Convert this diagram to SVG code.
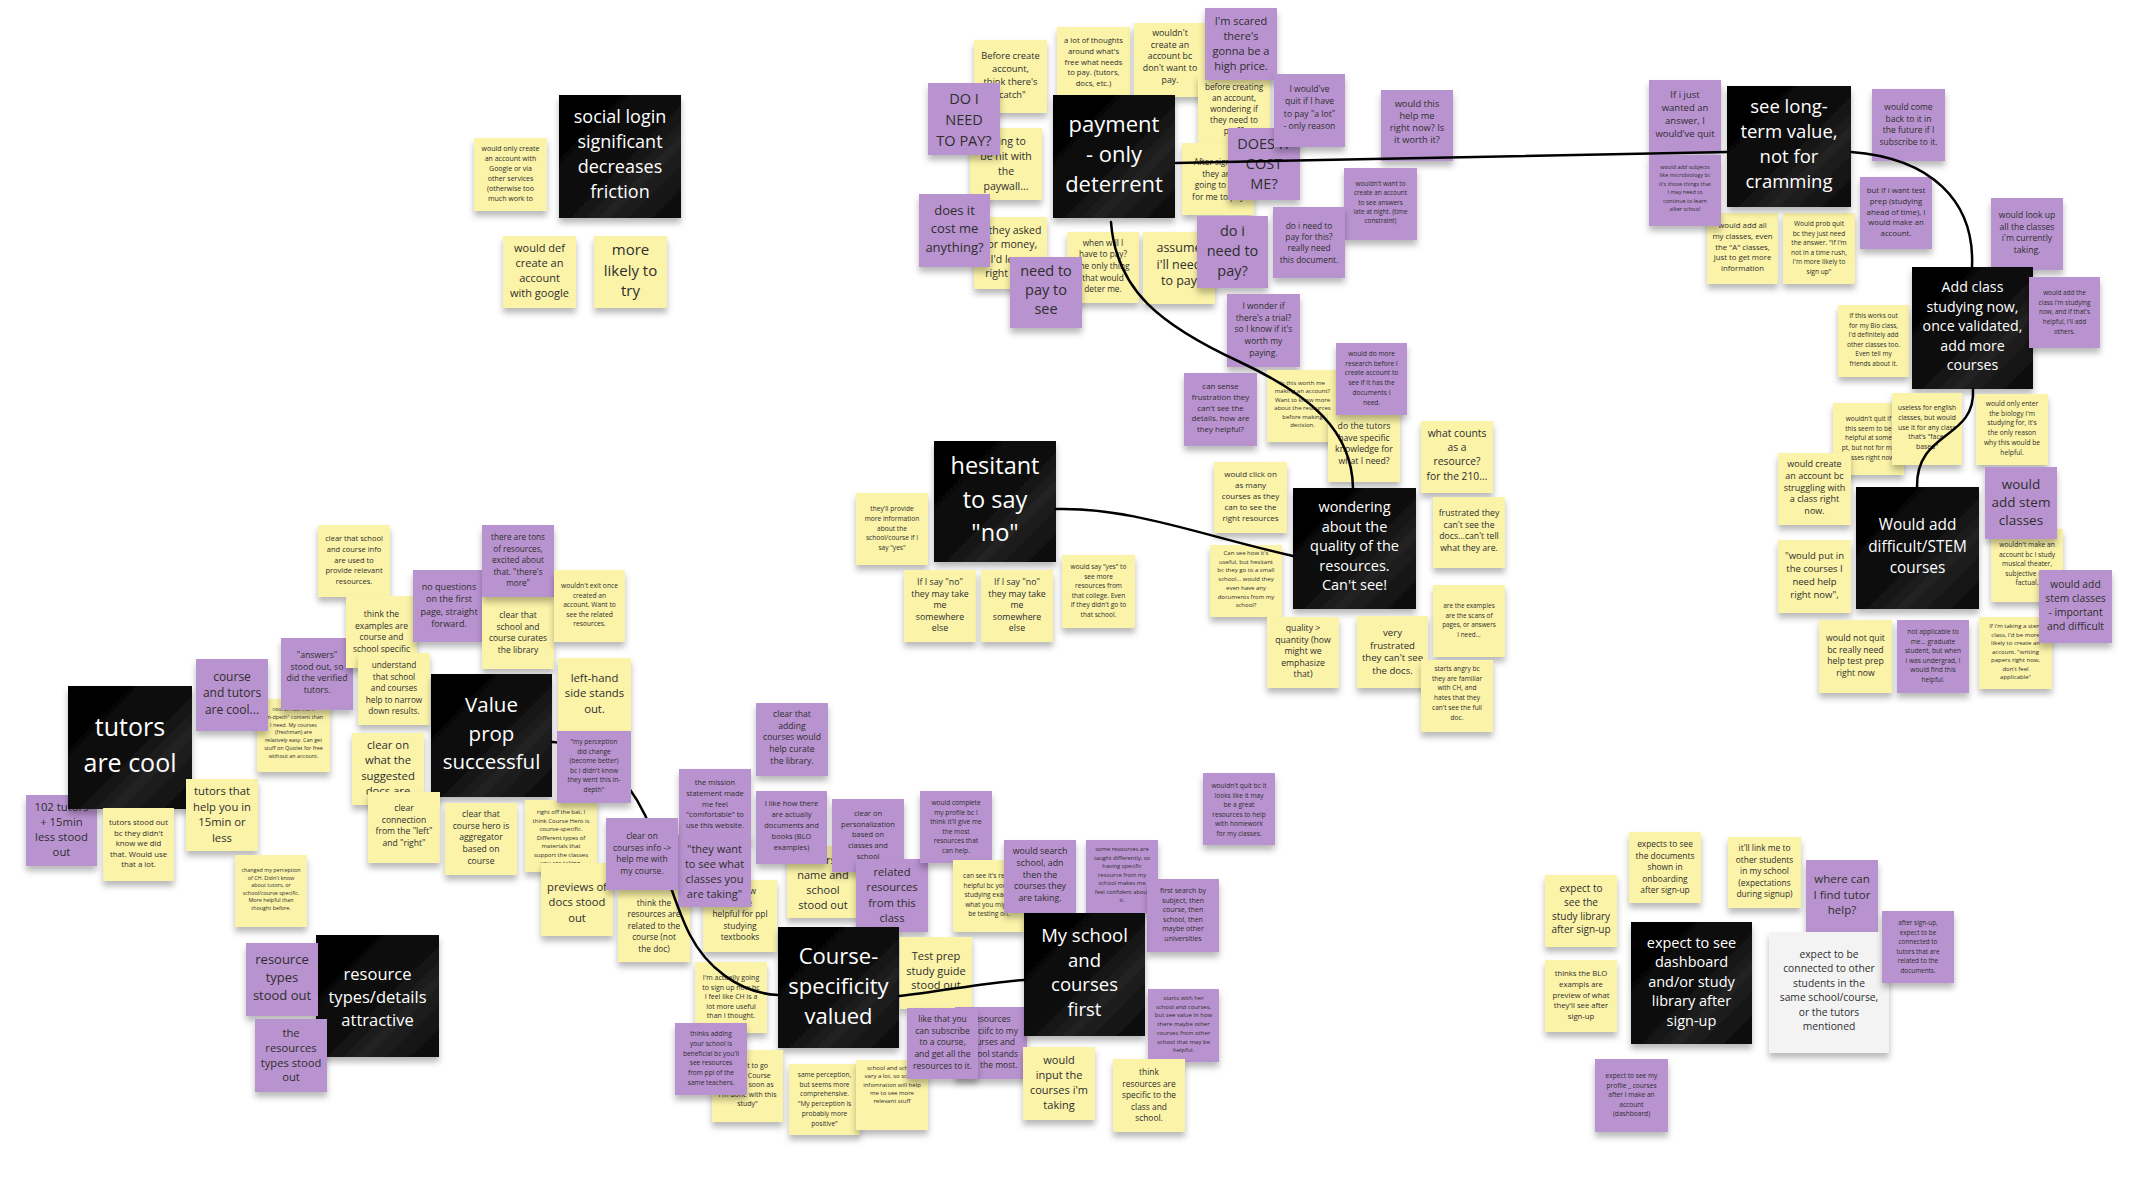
<svg xmlns="http://www.w3.org/2000/svg" width="2138" height="1202" viewBox="0 0 2138 1202">
<defs>
<filter id="sh" x="-20%" y="-20%" width="140%" height="150%"><feDropShadow dx="0" dy="5" stdDeviation="3" flood-color="#000" flood-opacity="0.28"/></filter>
<linearGradient id="kg" x1="0" y1="0" x2="1" y2="1"><stop offset="0" stop-color="#000"/><stop offset="0.5" stop-color="#0c0c0c"/><stop offset="0.68" stop-color="#222"/><stop offset="1" stop-color="#080808"/></linearGradient>
</defs>
<style>
rect{filter:url(#sh)}
.y{fill:#fbf3a8}.p{fill:#b993d0}.k{fill:url(#kg)}.w{fill:#f3f3f3}
text{font-family:"Open Sans","Noto Sans",sans-serif;fill:#2e2e2e;text-anchor:middle;dominant-baseline:central}
text.h{fill:#fff}
.cn path{fill:none;stroke:#000;stroke-width:2.5;stroke-linecap:round}
</style>
<rect x="0" y="0" width="2138" height="1202" fill="#fff" style="filter:none"/>

<!-- social login -->
<g id="social-google-only"><rect class="y" x="474" y="138" width="73" height="73"/><text x="510.5" y="148.3" font-size="7"><tspan x="510.5">would only create</tspan><tspan x="510.5" dy="10">an account with</tspan><tspan x="510.5" dy="10">Google or via</tspan><tspan x="510.5" dy="10">other services</tspan><tspan x="510.5" dy="10">(otherwise too</tspan><tspan x="510.5" dy="10">much work to</tspan></text></g>
<g id="social-header"><rect class="k" x="559" y="95" width="122" height="123"/><text class="h" x="620" y="116" font-size="18"><tspan x="620">social login</tspan><tspan x="620" dy="25">significant</tspan><tspan x="620" dy="25">decreases</tspan><tspan x="620" dy="25">friction</tspan></text></g>
<g id="social-def"><rect class="y" x="503" y="236" width="73" height="72"/><text x="539.5" y="247" font-size="11"><tspan x="539.5">would def</tspan><tspan x="539.5" dy="15">create an</tspan><tspan x="539.5" dy="15">account</tspan><tspan x="539.5" dy="15">with google</tspan></text></g>
<g id="social-likely"><rect class="y" x="594" y="236" width="73" height="72"/><text x="630.5" y="249" font-size="15"><tspan x="630.5">more</tspan><tspan x="630.5" dy="20.5">likely to</tspan><tspan x="630.5" dy="20.5">try</tspan></text></g>

<!-- payment -->
<g id="pay-before"><rect class="y" x="974" y="40" width="73" height="73"/><text x="1010.5" y="55" font-size="9.3"><tspan x="1010.5">Before create</tspan><tspan x="1010.5" dy="13">account,</tspan><tspan x="1010.5" dy="13">think there's</tspan><tspan x="1010.5" dy="13">"catch"</tspan></text></g>
<g id="pay-thoughts"><rect class="y" x="1057" y="27" width="73" height="71"/><text x="1093.5" y="40" font-size="7.7"><tspan x="1093.5">a lot of thoughts</tspan><tspan x="1093.5" dy="10.8">around what's</tspan><tspan x="1093.5" dy="10.8">free what needs</tspan><tspan x="1093.5" dy="10.8">to pay. (tutors,</tspan><tspan x="1093.5" dy="10.8">docs, etc.)</tspan></text></g>
<g id="pay-wouldnt"><rect class="y" x="1134" y="23" width="72" height="74"/><text x="1170" y="33" font-size="8.8"><tspan x="1170">wouldn't</tspan><tspan x="1170" dy="11.7">create an</tspan><tspan x="1170" dy="11.7">account bc</tspan><tspan x="1170" dy="11.7">don't want to</tspan><tspan x="1170" dy="11.7">pay.</tspan></text></g>
<g id="pay-hit"><rect class="y" x="970" y="128" width="72" height="72"/><text x="1006" y="140.5" font-size="10.5"><tspan x="1006">going to</tspan><tspan x="1006" dy="15">be hit with</tspan><tspan x="1006" dy="15">the</tspan><tspan x="1006" dy="15">paywall...</tspan></text></g>
<g id="pay-doi"><rect class="p" x="928" y="83" width="72" height="72"/><text x="964" y="98.3" font-size="14.5"><tspan x="964">DO I</tspan><tspan x="964" dy="20.7">NEED</tspan><tspan x="964" dy="20.7">TO PAY?</tspan></text></g>
<g id="pay-asked"><rect class="y" x="974" y="217" width="73" height="72"/><text x="1010.5" y="230" font-size="10.5"><tspan x="1010.5">if they asked</tspan><tspan x="1010.5" dy="14.3">for money,</tspan><tspan x="1010.5" dy="14.3">I'd leave</tspan><tspan x="1010.5" dy="14.3">right away</tspan></text></g>
<g id="pay-cost"><rect class="p" x="919" y="194" width="71" height="73"/><text x="954.5" y="210" font-size="13"><tspan x="954.5">does it</tspan><tspan x="954.5" dy="18.3">cost me</tspan><tspan x="954.5" dy="18.3">anything?</tspan></text></g>
<g id="pay-when"><rect class="y" x="1067" y="232" width="72" height="71"/><text x="1103" y="241.7" font-size="8.3"><tspan x="1103">when will I</tspan><tspan x="1103" dy="11.6">have to pay?</tspan><tspan x="1103" dy="11.6">the only thing</tspan><tspan x="1103" dy="11.6">that would</tspan><tspan x="1103" dy="11.6">deter me.</tspan></text></g>
<g id="pay-assume"><rect class="y" x="1143" y="232" width="72" height="72"/><text x="1179" y="247" font-size="12.5"><tspan x="1179">assume</tspan><tspan x="1179" dy="16.5">i'll need</tspan><tspan x="1179" dy="16.5">to pay</tspan></text></g>
<g id="pay-needsee"><rect class="p" x="1010" y="257" width="72" height="71"/><text x="1046" y="270" font-size="14.5"><tspan x="1046">need to</tspan><tspan x="1046" dy="19.2">pay to</tspan><tspan x="1046" dy="19.2">see</tspan></text></g>
<g id="pay-header"><rect class="k" x="1053" y="95" width="122" height="123"/><text class="h" x="1114" y="123" font-size="22"><tspan x="1114">payment</tspan><tspan x="1114" dy="30">- only</tspan><tspan x="1114" dy="30">deterrent</tspan></text></g>
<g id="pay-beforecreating"><rect class="y" x="1198" y="74" width="72" height="72"/><text x="1234" y="86" font-size="8.2"><tspan x="1234">before creating</tspan><tspan x="1234" dy="11">an account,</tspan><tspan x="1234" dy="11">wondering if</tspan><tspan x="1234" dy="11">they need to</tspan><tspan x="1234" dy="11">pay??</tspan></text></g>
<g id="pay-scared"><rect class="p" x="1205" y="8" width="72" height="72"/><text x="1241" y="20" font-size="11"><tspan x="1241">I'm scared</tspan><tspan x="1241" dy="15">there's</tspan><tspan x="1241" dy="15">gonna be a</tspan><tspan x="1241" dy="15">high price.</tspan></text></g>
<g id="pay-after"><rect class="y" x="1182" y="143" width="72" height="72"/><text x="1218" y="161" font-size="8.3"><tspan x="1218">After signing</tspan><tspan x="1218" dy="11.5">they are</tspan><tspan x="1218" dy="11.5">going to ask</tspan><tspan x="1218" dy="11.5">for me to pay</tspan></text></g>
<g id="pay-doescost"><rect class="p" x="1228" y="128" width="72" height="72"/><text x="1264" y="143" font-size="14.5"><tspan x="1264">DOES IT</tspan><tspan x="1264" dy="20">COST</tspan><tspan x="1264" dy="20">ME?</tspan></text></g>
<g id="pay-quit"><rect class="p" x="1274" y="74" width="71" height="73"/><text x="1309.5" y="89" font-size="8.6"><tspan x="1309.5">I would've</tspan><tspan x="1309.5" dy="12.3">quit if I have</tspan><tspan x="1309.5" dy="12.3">to pay "a lot"</tspan><tspan x="1309.5" dy="12.3">- only reason</tspan></text></g>
<g id="pay-helpnow"><rect class="p" x="1381" y="90" width="72" height="71"/><text x="1417" y="103" font-size="9.3"><tspan x="1417">would this</tspan><tspan x="1417" dy="12">help me</tspan><tspan x="1417" dy="12">right now? Is</tspan><tspan x="1417" dy="12">it worth it?</tspan></text></g>
<g id="pay-latenight"><rect class="p" x="1344" y="168" width="73" height="72"/><text x="1380.5" y="183" font-size="6.4"><tspan x="1380.5">wouldn't want to</tspan><tspan x="1380.5" dy="9.3">create an account</tspan><tspan x="1380.5" dy="9.3">to see answers</tspan><tspan x="1380.5" dy="9.3">late at night. (time</tspan><tspan x="1380.5" dy="9.3">constraint)</tspan></text></g>
<g id="pay-doc"><rect class="p" x="1273" y="207" width="72" height="71"/><text x="1309" y="225" font-size="8.4"><tspan x="1309">do i need to</tspan><tspan x="1309" dy="11.2">pay for this?</tspan><tspan x="1309" dy="11.2">really need</tspan><tspan x="1309" dy="11.2">this document.</tspan></text></g>
<g id="pay-doi2"><rect class="p" x="1197" y="216" width="71" height="72"/><text x="1232.5" y="230" font-size="14.5"><tspan x="1232.5">do i</tspan><tspan x="1232.5" dy="20">need to</tspan><tspan x="1232.5" dy="20">pay?</tspan></text></g>
<g id="pay-trial"><rect class="p" x="1227" y="294" width="73" height="73"/><text x="1263.5" y="305" font-size="8.5"><tspan x="1263.5">I wonder if</tspan><tspan x="1263.5" dy="11.7">there's a trial?</tspan><tspan x="1263.5" dy="11.7">so I know if it's</tspan><tspan x="1263.5" dy="11.7">worth my</tspan><tspan x="1263.5" dy="11.7">paying.</tspan></text></g>

<!-- hesitant -->
<g id="hes-provide"><rect class="y" x="856" y="493" width="72" height="72"/><text x="892" y="508" font-size="6.6"><tspan x="892">they'll provide</tspan><tspan x="892" dy="9.8">more information</tspan><tspan x="892" dy="9.8">about the</tspan><tspan x="892" dy="9.8">school/course if I</tspan><tspan x="892" dy="9.8">say "yes"</tspan></text></g>
<g id="hes-header"><rect class="k" x="934" y="441" width="122" height="121"/><text class="h" x="995" y="465" font-size="23.5"><tspan x="995">hesitant</tspan><tspan x="995" dy="33.5">to say</tspan><tspan x="995" dy="33.5">"no"</tspan></text></g>
<g id="hes-no1"><rect class="y" x="904" y="570" width="72" height="72"/><text x="940" y="582" font-size="8.8"><tspan x="940">If I say "no"</tspan><tspan x="940" dy="11.6">they may take</tspan><tspan x="940" dy="11.6">me</tspan><tspan x="940" dy="11.6">somewhere</tspan><tspan x="940" dy="11.6">else</tspan></text></g>
<g id="hes-no2"><rect class="y" x="981" y="570" width="72" height="72"/><text x="1017" y="582" font-size="8.8"><tspan x="1017">If I say "no"</tspan><tspan x="1017" dy="11.6">they may take</tspan><tspan x="1017" dy="11.6">me</tspan><tspan x="1017" dy="11.6">somewhere</tspan><tspan x="1017" dy="11.6">else</tspan></text></g>
<g id="hes-yes"><rect class="y" x="1062" y="555" width="73" height="73"/><text x="1098.5" y="566" font-size="6.6"><tspan x="1098.5">would say "yes" to</tspan><tspan x="1098.5" dy="9.5">see more</tspan><tspan x="1098.5" dy="9.5">resources from</tspan><tspan x="1098.5" dy="9.5">that college. Even</tspan><tspan x="1098.5" dy="9.5">if they didn't go to</tspan><tspan x="1098.5" dy="9.5">that school.</tspan></text></g>

<!-- wondering -->
<g id="won-sense"><rect class="p" x="1184" y="373" width="73" height="73"/><text x="1220.5" y="386" font-size="7.9"><tspan x="1220.5">can sense</tspan><tspan x="1220.5" dy="10.75">frustration they</tspan><tspan x="1220.5" dy="10.75">can't see the</tspan><tspan x="1220.5" dy="10.75">details. how are</tspan><tspan x="1220.5" dy="10.75">they helpful?</tspan></text></g>
<g id="won-worth"><rect class="y" x="1267" y="370" width="71" height="72"/><text x="1302.5" y="383" font-size="6"><tspan x="1302.5">Is this worth me</tspan><tspan x="1302.5" dy="8.4">making an account?</tspan><tspan x="1302.5" dy="8.4">Want to know more</tspan><tspan x="1302.5" dy="8.4">about the resources</tspan><tspan x="1302.5" dy="8.4">before making</tspan><tspan x="1302.5" dy="8.4">decision.</tspan></text></g>
<g id="won-tutors"><rect class="y" x="1328" y="410" width="72" height="72"/><text x="1364" y="426" font-size="8.7"><tspan x="1364">do the tutors</tspan><tspan x="1364" dy="11.7">have specific</tspan><tspan x="1364" dy="11.7">knowledge for</tspan><tspan x="1364" dy="11.7">what I need?</tspan></text></g>
<g id="won-research"><rect class="p" x="1336" y="343" width="71" height="72"/><text x="1371.5" y="353" font-size="6.6"><tspan x="1371.5">would do more</tspan><tspan x="1371.5" dy="9.7">research before I</tspan><tspan x="1371.5" dy="9.7">create account to</tspan><tspan x="1371.5" dy="9.7">see if it has the</tspan><tspan x="1371.5" dy="9.7">documents I</tspan><tspan x="1371.5" dy="9.7">need.</tspan></text></g>
<g id="won-counts"><rect class="y" x="1421" y="421" width="72" height="72"/><text x="1457" y="433" font-size="10.3"><tspan x="1457">what counts</tspan><tspan x="1457" dy="14.2">as a</tspan><tspan x="1457" dy="14.2">resource?</tspan><tspan x="1457" dy="14.2">for the 210...</tspan></text></g>
<g id="won-click"><rect class="y" x="1214" y="462" width="73" height="71"/><text x="1250.5" y="473" font-size="8"><tspan x="1250.5">would click on</tspan><tspan x="1250.5" dy="11">as many</tspan><tspan x="1250.5" dy="11">courses as they</tspan><tspan x="1250.5" dy="11">can to see the</tspan><tspan x="1250.5" dy="11">right resources</tspan></text></g>
<g id="won-small"><rect class="y" x="1210" y="545" width="72" height="72"/><text x="1246" y="553" font-size="6"><tspan x="1246">Can see how it's</tspan><tspan x="1246" dy="8.7">useful, but hesitant</tspan><tspan x="1246" dy="8.7">bc they go to a small</tspan><tspan x="1246" dy="8.7">school... would they</tspan><tspan x="1246" dy="8.7">even have any</tspan><tspan x="1246" dy="8.7">documents from my</tspan><tspan x="1246" dy="8.7">school?</tspan></text></g>
<g id="won-header"><rect class="k" x="1293" y="488" width="123" height="121"/><text class="h" x="1354.5" y="506" font-size="14.5"><tspan x="1354.5">wondering</tspan><tspan x="1354.5" dy="19.5">about the</tspan><tspan x="1354.5" dy="19.5">quality of the</tspan><tspan x="1354.5" dy="19.5">resources.</tspan><tspan x="1354.5" dy="19.5">Can't see!</tspan></text></g>
<g id="won-frustr"><rect class="y" x="1433" y="497" width="72" height="71"/><text x="1469" y="513" font-size="8.7"><tspan x="1469">frustrated they</tspan><tspan x="1469" dy="11.7">can't see the</tspan><tspan x="1469" dy="11.7">docs...can't tell</tspan><tspan x="1469" dy="11.7">what they are.</tspan></text></g>
<g id="won-examples"><rect class="y" x="1433" y="585" width="72" height="72"/><text x="1469" y="605" font-size="6.4"><tspan x="1469">are the examples</tspan><tspan x="1469" dy="9.5">are the scans of</tspan><tspan x="1469" dy="9.5">pages, or answers</tspan><tspan x="1469" dy="9.5">I need...</tspan></text></g>
<g id="won-quality"><rect class="y" x="1267" y="617" width="72" height="71"/><text x="1303" y="628" font-size="8.7"><tspan x="1303">quality &gt;</tspan><tspan x="1303" dy="11.6">quantity (how</tspan><tspan x="1303" dy="11.6">might we</tspan><tspan x="1303" dy="11.6">emphasize</tspan><tspan x="1303" dy="11.6">that)</tspan></text></g>
<g id="won-veryfr"><rect class="y" x="1357" y="616" width="71" height="72"/><text x="1392.5" y="632" font-size="9.6"><tspan x="1392.5">very</tspan><tspan x="1392.5" dy="12.5">frustrated</tspan><tspan x="1392.5" dy="12.5">they can't see</tspan><tspan x="1392.5" dy="12.5">the docs.</tspan></text></g>
<g id="won-angry"><rect class="y" x="1421" y="660" width="72" height="72"/><text x="1457" y="668" font-size="6.6"><tspan x="1457">starts angry bc</tspan><tspan x="1457" dy="9.7">they are familiar</tspan><tspan x="1457" dy="9.7">with CH, and</tspan><tspan x="1457" dy="9.7">hates that they</tspan><tspan x="1457" dy="9.7">can't see the full</tspan><tspan x="1457" dy="9.7">doc.</tspan></text></g>

<!-- long-term -->
<g id="tr-addall"><rect class="y" x="1707" y="213" width="71" height="71"/><text x="1742.5" y="225" font-size="7.8"><tspan x="1742.5">would add all</tspan><tspan x="1742.5" dy="10.8">my classes, even</tspan><tspan x="1742.5" dy="10.8">the "A" classes,</tspan><tspan x="1742.5" dy="10.8">just to get more</tspan><tspan x="1742.5" dy="10.8">information</tspan></text></g>
<g id="tr-probquit"><rect class="y" x="1783" y="213" width="72" height="71"/><text x="1819" y="223" font-size="6.6"><tspan x="1819">Would prob quit</tspan><tspan x="1819" dy="9.6">bc they just need</tspan><tspan x="1819" dy="9.6">the answer. "If I'm</tspan><tspan x="1819" dy="9.6">not in a time rush,</tspan><tspan x="1819" dy="9.6">I'm more likely to</tspan><tspan x="1819" dy="9.6">sign up"</tspan></text></g>
<g id="tr-justans"><rect class="p" x="1649" y="80" width="72" height="72"/><text x="1685" y="94" font-size="9.5"><tspan x="1685">If i just</tspan><tspan x="1685" dy="13">wanted an</tspan><tspan x="1685" dy="13">answer, I</tspan><tspan x="1685" dy="13">would've quit</tspan></text></g>
<g id="tr-subjects"><rect class="p" x="1649" y="155" width="72" height="71"/><text x="1685" y="167" font-size="5.5"><tspan x="1685">would add subjects</tspan><tspan x="1685" dy="8.4">like microbiology bc</tspan><tspan x="1685" dy="8.4">it's those things that</tspan><tspan x="1685" dy="8.4">I may need to</tspan><tspan x="1685" dy="8.4">continue to learn</tspan><tspan x="1685" dy="8.4">after school</tspan></text></g>
<g id="tr-header"><rect class="k" x="1727" y="86" width="124" height="121"/><text class="h" x="1789" y="105" font-size="18.5"><tspan x="1789">see long-</tspan><tspan x="1789" dy="25">term value,</tspan><tspan x="1789" dy="25">not for</tspan><tspan x="1789" dy="25">cramming</tspan></text></g>
<g id="tr-comeback"><rect class="p" x="1872" y="89" width="73" height="72"/><text x="1908.5" y="106" font-size="8.5"><tspan x="1908.5">would come</tspan><tspan x="1908.5" dy="11.7">back to it in</tspan><tspan x="1908.5" dy="11.7">the future if I</tspan><tspan x="1908.5" dy="11.7">subscribe to it.</tspan></text></g>
<g id="tr-testprep"><rect class="p" x="1860" y="177" width="72" height="72"/><text x="1896" y="190" font-size="7.8"><tspan x="1896">but if i want test</tspan><tspan x="1896" dy="10.8">prep (studying</tspan><tspan x="1896" dy="10.8">ahead of time), I</tspan><tspan x="1896" dy="10.8">would make an</tspan><tspan x="1896" dy="10.8">account.</tspan></text></g>
<g id="tr-lookup"><rect class="p" x="1991" y="198" width="72" height="72"/><text x="2027" y="215" font-size="8.6"><tspan x="2027">would look up</tspan><tspan x="2027" dy="11.7">all the classes</tspan><tspan x="2027" dy="11.7">i'm currently</tspan><tspan x="2027" dy="11.7">taking.</tspan></text></g>
<g id="tr-bio"><rect class="y" x="1838" y="305" width="71" height="72"/><text x="1873.5" y="315" font-size="6.5"><tspan x="1873.5">If this works out</tspan><tspan x="1873.5" dy="9.6">for my Bio class,</tspan><tspan x="1873.5" dy="9.6">I'd definitely add</tspan><tspan x="1873.5" dy="9.6">other classes too.</tspan><tspan x="1873.5" dy="9.6">Even tell my</tspan><tspan x="1873.5" dy="9.6">friends about it.</tspan></text></g>
<g id="tr-header2"><rect class="k" x="1912" y="267" width="121" height="122"/><text class="h" x="1972.5" y="286" font-size="14.2"><tspan x="1972.5">Add class</tspan><tspan x="1972.5" dy="19.5">studying now,</tspan><tspan x="1972.5" dy="19.5">once validated,</tspan><tspan x="1972.5" dy="19.5">add more</tspan><tspan x="1972.5" dy="19.5">courses</tspan></text></g>
<g id="tr-addclass"><rect class="p" x="2029" y="277" width="71" height="71"/><text x="2064.5" y="292" font-size="6.4"><tspan x="2064.5">would add the</tspan><tspan x="2064.5" dy="9.7">class i'm studying</tspan><tspan x="2064.5" dy="9.7">now, and if that's</tspan><tspan x="2064.5" dy="9.7">helpful, i'll add</tspan><tspan x="2064.5" dy="9.7">others.</tspan></text></g>

<!-- STEM -->
<g id="rm-wouldntquit"><rect class="y" x="1833" y="403" width="71" height="72"/><text x="1868.5" y="418" font-size="6.5"><tspan x="1868.5">wouldn't quit if</tspan><tspan x="1868.5" dy="9.7">this seem to be</tspan><tspan x="1868.5" dy="9.7">helpful at some</tspan><tspan x="1868.5" dy="9.7">pt, but not for my</tspan><tspan x="1868.5" dy="9.7">classes right now</tspan></text></g>
<g id="rm-useless"><rect class="y" x="1892" y="393" width="70" height="72"/><text x="1927" y="407" font-size="6.8"><tspan x="1927">useless for english</tspan><tspan x="1927" dy="9.8">classes, but would</tspan><tspan x="1927" dy="9.8">use it for any class</tspan><tspan x="1927" dy="9.8">that's "face-</tspan><tspan x="1927" dy="9.8">based"</tspan></text></g>
<g id="rm-bio"><rect class="y" x="1976" y="394" width="72" height="71"/><text x="2012" y="403" font-size="6.7"><tspan x="2012">would only enter</tspan><tspan x="2012" dy="9.7">the biology I'm</tspan><tspan x="2012" dy="9.7">studying for, it's</tspan><tspan x="2012" dy="9.7">the only reason</tspan><tspan x="2012" dy="9.7">why this would be</tspan><tspan x="2012" dy="9.7">helpful.</tspan></text></g>
<g id="rm-struggle"><rect class="y" x="1778" y="453" width="73" height="72"/><text x="1814.5" y="463" font-size="9"><tspan x="1814.5">would create</tspan><tspan x="1814.5" dy="11.8">an account bc</tspan><tspan x="1814.5" dy="11.8">struggling with</tspan><tspan x="1814.5" dy="11.8">a class right</tspan><tspan x="1814.5" dy="11.8">now.</tspan></text></g>
<g id="rm-header"><rect class="k" x="1856" y="487" width="123" height="122"/><text class="h" x="1917.5" y="524" font-size="15.4"><tspan x="1917.5">Would add</tspan><tspan x="1917.5" dy="21.7">difficult/STEM</tspan><tspan x="1917.5" dy="21.7">courses</tspan></text></g>
<g id="rm-musical"><rect class="y" x="1991" y="529" width="72" height="73"/><text x="2027" y="544" font-size="6.7"><tspan x="2027">wouldn't make an</tspan><tspan x="2027" dy="9.6">account bc I study</tspan><tspan x="2027" dy="9.6">musical theater,</tspan><tspan x="2027" dy="9.6">subjective not</tspan><tspan x="2027" dy="9.6">factual.</tspan></text></g>
<g id="rm-stem"><rect class="p" x="1985" y="467" width="72" height="72"/><text x="2021" y="484" font-size="13.5"><tspan x="2021">would</tspan><tspan x="2021" dy="18">add stem</tspan><tspan x="2021" dy="18">classes</tspan></text></g>
<g id="rm-putin"><rect class="y" x="1778" y="540" width="73" height="73"/><text x="1814.5" y="555" font-size="9.5"><tspan x="1814.5">"would put in</tspan><tspan x="1814.5" dy="13">the courses I</tspan><tspan x="1814.5" dy="13">need help</tspan><tspan x="1814.5" dy="13">right now",</tspan></text></g>
<g id="rm-notquit"><rect class="y" x="1819" y="620" width="73" height="73"/><text x="1855.5" y="638" font-size="8.7"><tspan x="1855.5">would not quit</tspan><tspan x="1855.5" dy="11.6">bc really need</tspan><tspan x="1855.5" dy="11.6">help test prep</tspan><tspan x="1855.5" dy="11.6">right now</tspan></text></g>
<g id="rm-grad"><rect class="p" x="1897" y="620" width="72" height="73"/><text x="1933" y="631" font-size="6.6"><tspan x="1933">not applicable to</tspan><tspan x="1933" dy="9.6">me... graduate</tspan><tspan x="1933" dy="9.6">student, but when</tspan><tspan x="1933" dy="9.6">i was undergrad, I</tspan><tspan x="1933" dy="9.6">would find this</tspan><tspan x="1933" dy="9.6">helpful.</tspan></text></g>
<g id="rm-stemclass"><rect class="y" x="1979" y="617" width="73" height="72"/><text x="2015.5" y="626" font-size="6"><tspan x="2015.5">If i'm taking a stem</tspan><tspan x="2015.5" dy="8.5">class, I'd be more</tspan><tspan x="2015.5" dy="8.5">likely to create an</tspan><tspan x="2015.5" dy="8.5">account. "writing</tspan><tspan x="2015.5" dy="8.5">papers right now,</tspan><tspan x="2015.5" dy="8.5">don't feel</tspan><tspan x="2015.5" dy="8.5">applicable"</tspan></text></g>
<g id="rm-stem2"><rect class="p" x="2039" y="570" width="73" height="73"/><text x="2075.5" y="584" font-size="10.3"><tspan x="2075.5">would add</tspan><tspan x="2075.5" dy="14">stem classes</tspan><tspan x="2075.5" dy="14">- important</tspan><tspan x="2075.5" dy="14">and difficult</tspan></text></g>

<!-- tutors -->
<g id="l-102"><rect class="p" x="26" y="795" width="71" height="71"/><text x="61.5" y="806" font-size="11.3"><tspan x="61.5">102 tutors</tspan><tspan x="61.5" dy="15">+ 15min</tspan><tspan x="61.5" dy="15">less stood</tspan><tspan x="61.5" dy="15">out</tspan></text></g>
<g id="l-header"><rect class="k" x="68" y="686" width="124" height="123"/><text class="h" x="130" y="726" font-size="25"><tspan x="130">tutors</tspan><tspan x="130" dy="36">are cool</tspan></text></g>
<g id="l-stoodout"><rect class="y" x="103" y="808" width="71" height="73"/><text x="138.5" y="822" font-size="7.8"><tspan x="138.5">tutors stood out</tspan><tspan x="138.5" dy="10.5">bc they didn't</tspan><tspan x="138.5" dy="10.5">know we did</tspan><tspan x="138.5" dy="10.5">that. Would use</tspan><tspan x="138.5" dy="10.5">that a lot.</tspan></text></g>
<g id="l-15min"><rect class="y" x="186" y="779" width="72" height="72"/><text x="222" y="790" font-size="11.3"><tspan x="222">tutors that</tspan><tspan x="222" dy="15.5">help you in</tspan><tspan x="222" dy="15.5">15min or</tspan><tspan x="222" dy="15.5">less</tspan></text></g>
<g id="l-indepth"><rect class="y" x="257" y="699" width="73" height="73"/><text x="293.5" y="709" font-size="5.4"><tspan x="293.5">course has more</tspan><tspan x="293.5" dy="7.8">"in-dpeth" content than</tspan><tspan x="293.5" dy="7.8">I need. My courses</tspan><tspan x="293.5" dy="7.8">(freshman) are</tspan><tspan x="293.5" dy="7.8">relatively easy. Can get</tspan><tspan x="293.5" dy="7.8">stuff on Quizlet for free</tspan><tspan x="293.5" dy="7.8">without an account.</tspan></text></g>
<g id="l-cool"><rect class="p" x="196" y="659" width="72" height="72"/><text x="232" y="676" font-size="12"><tspan x="232">course</tspan><tspan x="232" dy="16.4">and tutors</tspan><tspan x="232" dy="16.4">are cool...</tspan></text></g>
<g id="l-answers"><rect class="p" x="281" y="638" width="72" height="72"/><text x="317" y="655" font-size="8.7"><tspan x="317">"answers"</tspan><tspan x="317" dy="11.7">stood out, so</tspan><tspan x="317" dy="11.7">did the verified</tspan><tspan x="317" dy="11.7">tutors.</tspan></text></g>
<g id="l-perception"><rect class="y" x="235" y="855" width="72" height="72"/><text x="271" y="870" font-size="5.4"><tspan x="271">changed my perception</tspan><tspan x="271" dy="7.6">of CH. Didn't know</tspan><tspan x="271" dy="7.6">about tutors, or</tspan><tspan x="271" dy="7.6">school/course specific.</tspan><tspan x="271" dy="7.6">More helpful than</tspan><tspan x="271" dy="7.6">thought before.</tspan></text></g>
<g id="l-rheader"><rect class="k" x="316" y="935" width="123" height="122"/><text class="h" x="377.5" y="973" font-size="16.5"><tspan x="377.5">resource</tspan><tspan x="377.5" dy="23">types/details</tspan><tspan x="377.5" dy="23">attractive</tspan></text></g>
<g id="l-rtypes"><rect class="p" x="246" y="943" width="72" height="73"/><text x="282" y="959" font-size="13"><tspan x="282">resource</tspan><tspan x="282" dy="18">types</tspan><tspan x="282" dy="18">stood out</tspan></text></g>
<g id="l-rtypes2"><rect class="p" x="255" y="1019" width="72" height="73"/><text x="291" y="1032" font-size="11.2"><tspan x="291">the</tspan><tspan x="291" dy="14.8">resources</tspan><tspan x="291" dy="14.8">types stood</tspan><tspan x="291" dy="14.8">out</tspan></text></g>

<!-- value prop -->
<g id="v-info"><rect class="y" x="318" y="525" width="72" height="72"/><text x="354" y="538" font-size="7.5"><tspan x="354">clear that school</tspan><tspan x="354" dy="10.75">and course info</tspan><tspan x="354" dy="10.75">are used to</tspan><tspan x="354" dy="10.75">provide relevant</tspan><tspan x="354" dy="10.75">resources.</tspan></text></g>
<g id="v-examples"><rect class="y" x="346" y="596" width="71" height="72"/><text x="381.5" y="613" font-size="8.5"><tspan x="381.5">think the</tspan><tspan x="381.5" dy="11.7">examples are</tspan><tspan x="381.5" dy="11.7">course and</tspan><tspan x="381.5" dy="11.7">school specific</tspan></text></g>
<g id="v-understand"><rect class="y" x="358" y="653" width="72" height="72"/><text x="394" y="664" font-size="8.2"><tspan x="394">understand</tspan><tspan x="394" dy="11.5">that school</tspan><tspan x="394" dy="11.5">and courses</tspan><tspan x="394" dy="11.5">help to narrow</tspan><tspan x="394" dy="11.5">down results.</tspan></text></g>
<g id="v-noq"><rect class="p" x="413" y="570" width="72" height="72"/><text x="449" y="586" font-size="9"><tspan x="449">no questions</tspan><tspan x="449" dy="12.3">on the first</tspan><tspan x="449" dy="12.3">page, straight</tspan><tspan x="449" dy="12.3">forward.</tspan></text></g>
<g id="v-curates"><rect class="y" x="482" y="597" width="72" height="72"/><text x="518" y="614" font-size="8.5"><tspan x="518">clear that</tspan><tspan x="518" dy="11.7">school and</tspan><tspan x="518" dy="11.7">course curates</tspan><tspan x="518" dy="11.7">the library</tspan></text></g>
<g id="v-tons"><rect class="p" x="482" y="525" width="72" height="72"/><text x="518" y="536" font-size="8.2"><tspan x="518">there are tons</tspan><tspan x="518" dy="11.6">of resources,</tspan><tspan x="518" dy="11.6">excited about</tspan><tspan x="518" dy="11.6">that. "there's</tspan><tspan x="518" dy="11.6">more"</tspan></text></g>
<g id="v-exit"><rect class="y" x="554" y="570" width="71" height="72"/><text x="589.5" y="585" font-size="6.7"><tspan x="589.5">wouldn't exit once</tspan><tspan x="589.5" dy="9.6">created an</tspan><tspan x="589.5" dy="9.6">account. Want to</tspan><tspan x="589.5" dy="9.6">see the related</tspan><tspan x="589.5" dy="9.6">resources.</tspan></text></g>
<g id="v-suggested"><rect class="y" x="352" y="733" width="72" height="72"/><text x="388" y="744" font-size="11.3"><tspan x="388">clear on</tspan><tspan x="388" dy="15.3">what the</tspan><tspan x="388" dy="15.3">suggested</tspan><tspan x="388" dy="15.3">docs are</tspan></text></g>
<g id="v-header"><rect class="k" x="431" y="674" width="121" height="123"/><text class="h" x="491.5" y="704" font-size="20.5"><tspan x="491.5">Value</tspan><tspan x="491.5" dy="28.5">prop</tspan><tspan x="491.5" dy="28.5">successful</tspan></text></g>
<g id="v-connection"><rect class="y" x="368" y="792" width="72" height="71"/><text x="404" y="808" font-size="8.6"><tspan x="404">clear</tspan><tspan x="404" dy="11.7">connection</tspan><tspan x="404" dy="11.7">from the "left"</tspan><tspan x="404" dy="11.7">and "right"</tspan></text></g>
<g id="v-aggregator"><rect class="y" x="445" y="803" width="72" height="72"/><text x="481" y="814" font-size="8.6"><tspan x="481">clear that</tspan><tspan x="481" dy="11.7">course hero is</tspan><tspan x="481" dy="11.7">aggregator</tspan><tspan x="481" dy="11.7">based on</tspan><tspan x="481" dy="11.7">course</tspan></text></g>
<g id="v-bat"><rect class="y" x="525" y="800" width="72" height="72"/><text x="561" y="812" font-size="6"><tspan x="561">right off the bat, I</tspan><tspan x="561" dy="8.5">think Course Hero is</tspan><tspan x="561" dy="8.5">course-specific.</tspan><tspan x="561" dy="8.5">Different types of</tspan><tspan x="561" dy="8.5">materials that</tspan><tspan x="561" dy="8.5">support the classes</tspan><tspan x="561" dy="8.5">you are taking.</tspan></text></g>
<g id="v-previews"><rect class="y" x="541" y="863" width="72" height="73"/><text x="577" y="886" font-size="11.2"><tspan x="577">previews of</tspan><tspan x="577" dy="15.3">docs stood</tspan><tspan x="577" dy="15.3">out</tspan></text></g>
<g id="v-relatedcourse"><rect class="y" x="618" y="890" width="72" height="72"/><text x="654" y="902" font-size="8.3"><tspan x="654">think the</tspan><tspan x="654" dy="11.4">resources are</tspan><tspan x="654" dy="11.4">related to the</tspan><tspan x="654" dy="11.4">course (not</tspan><tspan x="654" dy="11.4">the doc)</tspan></text></g>

<!-- course-specificity -->
<g id="c-curate"><rect class="p" x="756" y="703" width="72" height="73"/><text x="792" y="714" font-size="8.6"><tspan x="792">clear that</tspan><tspan x="792" dy="11.7">adding</tspan><tspan x="792" dy="11.7">courses would</tspan><tspan x="792" dy="11.7">help curate</tspan><tspan x="792" dy="11.7">the library.</tspan></text></g>
<g id="c-mission"><rect class="p" x="679" y="769" width="72" height="73"/><text x="715" y="782" font-size="7.5"><tspan x="715">the mission</tspan><tspan x="715" dy="10.8">statement made</tspan><tspan x="715" dy="10.8">me feel</tspan><tspan x="715" dy="10.8">"comfortable" to</tspan><tspan x="715" dy="10.8">use this website.</tspan></text></g>
<g id="c-users"><rect class="y" x="787" y="846" width="72" height="72"/><text x="823" y="859" font-size="11"><tspan x="823">users'</tspan><tspan x="823" dy="15">name and</tspan><tspan x="823" dy="15">school</tspan><tspan x="823" dy="15">stood out</tspan></text></g>
<g id="c-like"><rect class="p" x="756" y="791" width="71" height="73"/><text x="791.5" y="803" font-size="7.5"><tspan x="791.5">I like how there</tspan><tspan x="791.5" dy="11">are actually</tspan><tspan x="791.5" dy="11">documents and</tspan><tspan x="791.5" dy="11">books (BLO</tspan><tspan x="791.5" dy="11">examples)</tspan></text></g>
<g id="c-personal"><rect class="p" x="832" y="799" width="72" height="73"/><text x="868" y="813" font-size="7.5"><tspan x="868">clear on</tspan><tspan x="868" dy="10.7">personalization</tspan><tspan x="868" dy="10.7">based on</tspan><tspan x="868" dy="10.7">classes and</tspan><tspan x="868" dy="10.7">school</tspan></text></g>
<g id="c-related"><rect class="p" x="856" y="859" width="72" height="73"/><text x="892" y="871" font-size="11.2"><tspan x="892">related</tspan><tspan x="892" dy="15.3">resources</tspan><tspan x="892" dy="15.3">from this</tspan><tspan x="892" dy="15.3">class</tspan></text></g>
<g id="c-complete"><rect class="p" x="920" y="791" width="72" height="72"/><text x="956" y="802" font-size="6.6"><tspan x="956">would complete</tspan><tspan x="956" dy="9.5">my profile bc I</tspan><tspan x="956" dy="9.5">think it'll give me</tspan><tspan x="956" dy="9.5">the most</tspan><tspan x="956" dy="9.5">resources that</tspan><tspan x="956" dy="9.5">can help.</tspan></text></g>
<g id="c-testing"><rect class="y" x="953" y="860" width="72" height="72"/><text x="989" y="875" font-size="6.6"><tspan x="989">can see it's really</tspan><tspan x="989" dy="9.6">helpful bc you're</tspan><tspan x="989" dy="9.6">studying exactly</tspan><tspan x="989" dy="9.6">what you might</tspan><tspan x="989" dy="9.6">be testing on.</tspan></text></g>
<g id="c-textbooks"><rect class="y" x="703" y="880" width="74" height="72"/><text x="740" y="890" font-size="8.4"><tspan x="740">like how</tspan><tspan x="740" dy="11.5">it'd be</tspan><tspan x="740" dy="11.5">helpful for ppl</tspan><tspan x="740" dy="11.5">studying</tspan><tspan x="740" dy="11.5">textbooks</tspan></text></g>
<g id="c-theywant"><rect class="p" x="678" y="835" width="73" height="72"/><text x="714.5" y="848" font-size="11"><tspan x="714.5">"they want</tspan><tspan x="714.5" dy="15">to see what</tspan><tspan x="714.5" dy="15">classes you</tspan><tspan x="714.5" dy="15">are taking"</tspan></text></g>
<g id="c-header"><rect class="k" x="778" y="927" width="121" height="121"/><text class="h" x="838.5" y="955" font-size="22"><tspan x="838.5">Course-</tspan><tspan x="838.5" dy="30">specificity</tspan><tspan x="838.5" dy="30">valued</tspan></text></g>
<g id="c-testprep"><rect class="y" x="900" y="937" width="72" height="72"/><text x="936" y="955" font-size="11"><tspan x="936">Test prep</tspan><tspan x="936" dy="14.5">study guide</tspan><tspan x="936" dy="14.5">stood out</tspan></text></g>
<g id="c-signup"><rect class="y" x="695" y="962" width="72" height="71"/><text x="731" y="977" font-size="7"><tspan x="731">I'm actually going</tspan><tspan x="731" dy="9.5">to sign up now bc</tspan><tspan x="731" dy="9.5">I feel like CH is a</tspan><tspan x="731" dy="9.5">lot more useful</tspan><tspan x="731" dy="9.5">than I thought.</tspan></text></g>
<g id="c-wanttogo"><rect class="y" x="712" y="1050" width="71" height="72"/><text x="747.5" y="1065" font-size="7"><tspan x="747.5">"I want to go</tspan><tspan x="747.5" dy="9.6">to that Course</tspan><tspan x="747.5" dy="9.6">Hero as soon as</tspan><tspan x="747.5" dy="9.6">I'm done with this</tspan><tspan x="747.5" dy="9.6">study"</tspan></text></g>
<g id="c-adding"><rect class="p" x="675" y="1023" width="72" height="72"/><text x="711" y="1033" font-size="6.6"><tspan x="711">thinks adding</tspan><tspan x="711" dy="9.8">your school is</tspan><tspan x="711" dy="9.8">beneficial bc you'll</tspan><tspan x="711" dy="9.8">see resources</tspan><tspan x="711" dy="9.8">from ppl of the</tspan><tspan x="711" dy="9.8">same teachers.</tspan></text></g>
<g id="c-sameperc"><rect class="y" x="789" y="1064" width="71" height="71"/><text x="824.5" y="1074" font-size="6.6"><tspan x="824.5">same perception,</tspan><tspan x="824.5" dy="9.7">but seems more</tspan><tspan x="824.5" dy="9.7">comprehensive.</tspan><tspan x="824.5" dy="9.7">"My perception is</tspan><tspan x="824.5" dy="9.7">probably more</tspan><tspan x="824.5" dy="9.7">positive"</tspan></text></g>
<g id="c-vary"><rect class="y" x="856" y="1060" width="72" height="70"/><text x="892" y="1068" font-size="6"><tspan x="892">school and school</tspan><tspan x="892" dy="8.3">vary a lot, so school</tspan><tspan x="892" dy="8.3">infomration will help</tspan><tspan x="892" dy="8.3">me to see more</tspan><tspan x="892" dy="8.3">relevant stuff</tspan></text></g>
<g id="c-specific"><rect class="p" x="955" y="1007" width="72" height="72"/><text x="991" y="1018" font-size="8.5"><tspan x="991">resources</tspan><tspan x="991" dy="11.6">speciifc to my</tspan><tspan x="991" dy="11.6">courses and</tspan><tspan x="991" dy="11.6">school stands</tspan><tspan x="991" dy="11.6">out the most.</tspan></text></g>
<g id="c-subscribe"><rect class="p" x="907" y="1008" width="71" height="71"/><text x="942.5" y="1018" font-size="8.5"><tspan x="942.5">like that you</tspan><tspan x="942.5" dy="11.7">can subscribe</tspan><tspan x="942.5" dy="11.7">to a course,</tspan><tspan x="942.5" dy="11.7">and get all the</tspan><tspan x="942.5" dy="11.7">resources to it.</tspan></text></g>

<!-- my school -->
<g id="s-search"><rect class="p" x="1004" y="840" width="72" height="73"/><text x="1040" y="851" font-size="8.8"><tspan x="1040">would search</tspan><tspan x="1040" dy="11.8">school, adn</tspan><tspan x="1040" dy="11.8">then the</tspan><tspan x="1040" dy="11.8">courses they</tspan><tspan x="1040" dy="11.8">are taking.</tspan></text></g>
<g id="s-taught"><rect class="p" x="1086" y="840" width="72" height="73"/><text x="1122" y="849" font-size="5.8"><tspan x="1122">some resources are</tspan><tspan x="1122" dy="8.5">taught differently, so</tspan><tspan x="1122" dy="8.5">having specific</tspan><tspan x="1122" dy="8.5">resource from my</tspan><tspan x="1122" dy="8.5">school makes me</tspan><tspan x="1122" dy="8.5">feel confident about</tspan><tspan x="1122" dy="8.5">it.</tspan></text></g>
<g id="s-first"><rect class="p" x="1147" y="879" width="72" height="73"/><text x="1183" y="890" font-size="7"><tspan x="1183">first search by</tspan><tspan x="1183" dy="9.6">subject, then</tspan><tspan x="1183" dy="9.6">course, then</tspan><tspan x="1183" dy="9.6">school, then</tspan><tspan x="1183" dy="9.6">maybe other</tspan><tspan x="1183" dy="9.6">universities</tspan></text></g>
<g id="s-header"><rect class="k" x="1024" y="913" width="121" height="123"/><text class="h" x="1084.5" y="934" font-size="18.5"><tspan x="1084.5">My school</tspan><tspan x="1084.5" dy="24.7">and</tspan><tspan x="1084.5" dy="24.7">courses</tspan><tspan x="1084.5" dy="24.7">first</tspan></text></g>
<g id="s-wouldntquit"><rect class="p" x="1203" y="773" width="72" height="72"/><text x="1239" y="785" font-size="6.6"><tspan x="1239">wouldn't quit bc it</tspan><tspan x="1239" dy="9.6">looks like it may</tspan><tspan x="1239" dy="9.6">be a great</tspan><tspan x="1239" dy="9.6">resources to help</tspan><tspan x="1239" dy="9.6">with homework</tspan><tspan x="1239" dy="9.6">for my classes.</tspan></text></g>
<g id="s-starts"><rect class="p" x="1148" y="989" width="71" height="73"/><text x="1183.5" y="998" font-size="6"><tspan x="1183.5">starts with her</tspan><tspan x="1183.5" dy="8.7">school and courses,</tspan><tspan x="1183.5" dy="8.7">but see value in how</tspan><tspan x="1183.5" dy="8.7">there maybe other</tspan><tspan x="1183.5" dy="8.7">courses from other</tspan><tspan x="1183.5" dy="8.7">school that may be</tspan><tspan x="1183.5" dy="8.7">helpful.</tspan></text></g>
<g id="s-input"><rect class="y" x="1023" y="1047" width="72" height="73"/><text x="1059" y="1059" font-size="11"><tspan x="1059">would</tspan><tspan x="1059" dy="15">input the</tspan><tspan x="1059" dy="15">courses i'm</tspan><tspan x="1059" dy="15">taking</tspan></text></g>
<g id="s-think"><rect class="y" x="1113" y="1059" width="72" height="73"/><text x="1149" y="1071" font-size="8.4"><tspan x="1149">think</tspan><tspan x="1149" dy="11.5">resources are</tspan><tspan x="1149" dy="11.5">specific to the</tspan><tspan x="1149" dy="11.5">class and</tspan><tspan x="1149" dy="11.5">school.</tspan></text></g>

<!-- after sign-up -->
<g id="b-library"><rect class="y" x="1545" y="875" width="72" height="72"/><text x="1581" y="888" font-size="10"><tspan x="1581">expect to</tspan><tspan x="1581" dy="13.8">see the</tspan><tspan x="1581" dy="13.8">study library</tspan><tspan x="1581" dy="13.8">after sign-up</tspan></text></g>
<g id="b-docs"><rect class="y" x="1629" y="832" width="72" height="71"/><text x="1665" y="843" font-size="8.4"><tspan x="1665">expects to see</tspan><tspan x="1665" dy="11.6">the documents</tspan><tspan x="1665" dy="11.6">shown in</tspan><tspan x="1665" dy="11.6">onboarding</tspan><tspan x="1665" dy="11.6">after sign-up</tspan></text></g>
<g id="b-link"><rect class="y" x="1728" y="837" width="73" height="71"/><text x="1764.5" y="847" font-size="8.4"><tspan x="1764.5">it'll link me to</tspan><tspan x="1764.5" dy="11.6">other students</tspan><tspan x="1764.5" dy="11.6">in my school</tspan><tspan x="1764.5" dy="11.6">(expectations</tspan><tspan x="1764.5" dy="11.6">during signup)</tspan></text></g>
<g id="b-tutor"><rect class="p" x="1806" y="860" width="72" height="73"/><text x="1842" y="878" font-size="11.5"><tspan x="1842">where can</tspan><tspan x="1842" dy="15.5">I find tutor</tspan><tspan x="1842" dy="15.5">help?</tspan></text></g>
<g id="b-header"><rect class="k" x="1631" y="922" width="121" height="122"/><text class="h" x="1691.5" y="942" font-size="14.5"><tspan x="1691.5">expect to see</tspan><tspan x="1691.5" dy="19.4">dashboard</tspan><tspan x="1691.5" dy="19.4">and/or study</tspan><tspan x="1691.5" dy="19.4">library after</tspan><tspan x="1691.5" dy="19.4">sign-up</tspan></text></g>
<g id="b-connected"><rect class="w" x="1769" y="932" width="120" height="121"/><text x="1829" y="954" font-size="10.3"><tspan x="1829">expect to be</tspan><tspan x="1829" dy="14.4">connected to other</tspan><tspan x="1829" dy="14.4">students in the</tspan><tspan x="1829" dy="14.4">same school/course,</tspan><tspan x="1829" dy="14.4">or the tutors</tspan><tspan x="1829" dy="14.4">mentioned</tspan></text></g>
<g id="b-aftersign"><rect class="p" x="1882" y="911" width="72" height="72"/><text x="1918" y="922" font-size="6.4"><tspan x="1918">after sign-up,</tspan><tspan x="1918" dy="9.5">expect to be</tspan><tspan x="1918" dy="9.5">connected to</tspan><tspan x="1918" dy="9.5">tutors that are</tspan><tspan x="1918" dy="9.5">related to the</tspan><tspan x="1918" dy="9.5">documents.</tspan></text></g>
<g id="b-blo"><rect class="y" x="1545" y="960" width="72" height="72"/><text x="1581" y="973" font-size="7.7"><tspan x="1581">thinks the BLO</tspan><tspan x="1581" dy="10.8">exampls are</tspan><tspan x="1581" dy="10.8">preview of what</tspan><tspan x="1581" dy="10.8">they'll see after</tspan><tspan x="1581" dy="10.8">sign-up</tspan></text></g>
<g id="b-profile"><rect class="p" x="1595" y="1059" width="73" height="73"/><text x="1631.5" y="1075" font-size="6.6"><tspan x="1631.5">expect to see my</tspan><tspan x="1631.5" dy="9.5">profile _ courses</tspan><tspan x="1631.5" dy="9.5">after I make an</tspan><tspan x="1631.5" dy="9.5">account</tspan><tspan x="1631.5" dy="9.5">(dashboard)</tspan></text></g>

<!-- connectors -->
<g id="connectors" class="cn">
<path d="M1176,163 Q1450,157 1727,152"/>
<path d="M1111,222 C1116,290 1160,325 1240,362 C1310,395 1352,430 1353,488"/>
<path d="M1056,509 C1130,507 1200,535 1293,556"/>
<path d="M1851,152 C1930,158 1975,200 1972,267"/>
<path d="M1973,389 C1976,440 1916,430 1917,487"/>
<path d="M552,742 C598,744 628,780 645,815 C660,848 672,900 690,935 C706,966 738,993 778,995"/>
<path d="M899,996 C940,992 985,982 1024,980"/>
</g>

<g id="v-lefthand"><rect class="y" x="558" y="658" width="73" height="73"/><text x="594.5" y="677" font-size="11.3"><tspan x="594.5">left-hand</tspan><tspan x="594.5" dy="15.3">side stands</tspan><tspan x="594.5" dy="15.3">out.</tspan></text></g>
<g id="v-myperc"><rect class="p" x="557" y="731" width="74" height="72"/><text x="594" y="741" font-size="6.6"><tspan x="594">"my perception</tspan><tspan x="594" dy="9.6">did change</tspan><tspan x="594" dy="9.6">(become better)</tspan><tspan x="594" dy="9.6">bc i didn't know</tspan><tspan x="594" dy="9.6">they went this in-</tspan><tspan x="594" dy="9.6">depth"</tspan></text></g>
<g id="v-courses"><rect class="p" x="606" y="818" width="72" height="72"/><text x="642" y="835" font-size="8.5"><tspan x="642">clear on</tspan><tspan x="642" dy="11.7">courses info -&gt;</tspan><tspan x="642" dy="11.7">help me with</tspan><tspan x="642" dy="11.7">my course.</tspan></text></g>
</svg>
